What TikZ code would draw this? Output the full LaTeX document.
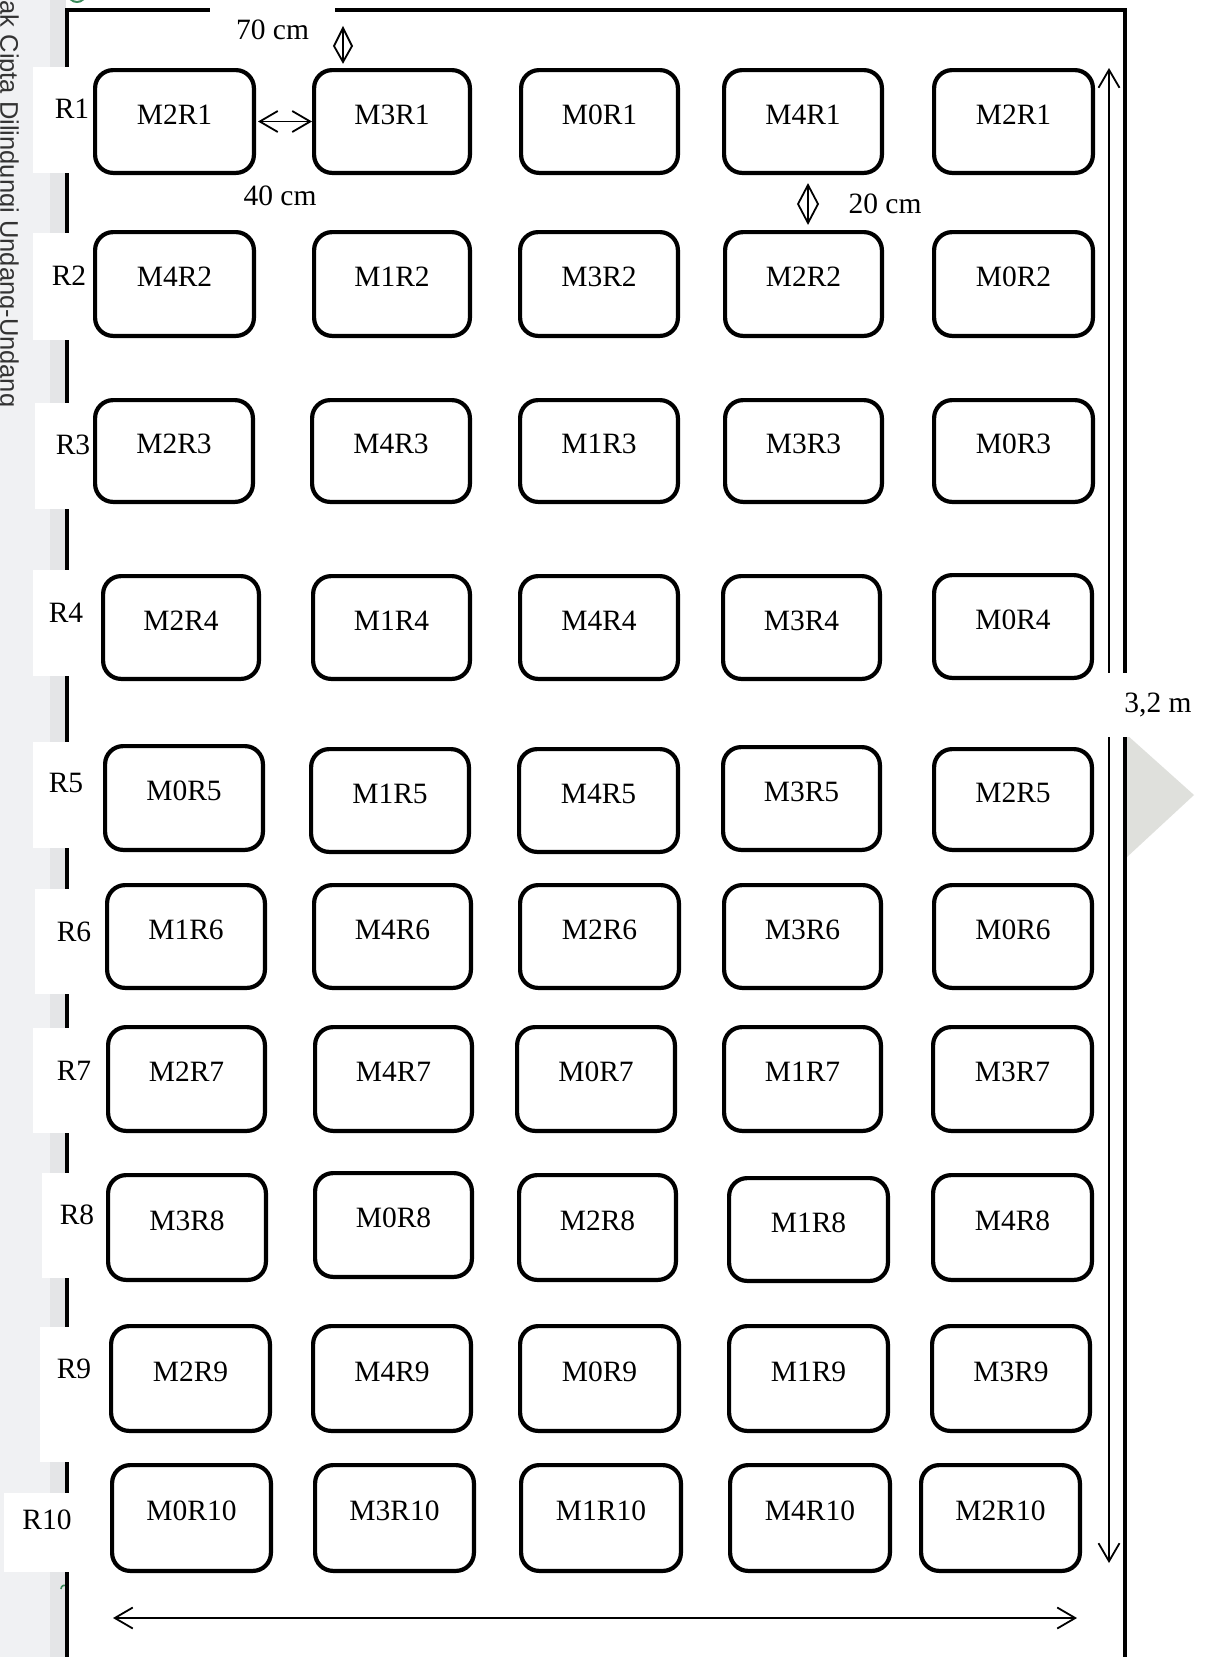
\documentclass[tikz,border=0pt]{standalone}
\usepackage{fontspec}
\setmainfont{Liberation Serif}
\newfontfamily\wmfont{Liberation Sans}
\usetikzlibrary{arrows.meta}

\definecolor{stripA}{HTML}{F0F1F3}
\definecolor{stripB}{HTML}{E4E5E7}
\definecolor{wmtext}{HTML}{333333}
\definecolor{chev}{HTML}{DFE0DC}
\definecolor{wmgreen}{HTML}{3A8A5A}

\tikzset{
  plot/.style={draw=black, line width=4.2pt, rounded corners=18pt, inner sep=0pt, fill=white},
  plottext/.style={font=\fontsize{29.5}{35}\selectfont, inner sep=0pt},
  rowbox/.style={fill=white, draw=none, inner sep=0pt, outer sep=0pt},
  border/.style={line width=4.8pt, line join=miter},
  dimarrow/.style={line width=1.8pt, {Straight Barb[length=18pt,width=21pt]}-{Straight Barb[length=18pt,width=21pt]}},
  thinline/.style={line width=1.8pt, line join=miter},
}

\newcommand\mplot[6]{%
  \node[plot, minimum width={#4-#2-4.2}, minimum height={#5-#3-4.2}] (#1) at ({(#2+#4)/2},{(#3+#5)/2}) {};
  \node[plottext] (#1t) at ([yshift=7pt]#1.center) {#6};
}
\newcommand\rlab[7]{%
  \node[rowbox, minimum width={90-#2}, minimum height={#4-#3}] (#1) at ({(#2+90)/2},{(#3+#4)/2}) {};
  \node[plottext] (#1t) at (#5,#6) {#7};
}

\begin{document}
\begin{tikzpicture}[x=1pt,y=-1pt]
\useasboundingbox (0,0) rectangle (1209,1657);
\fill[white] (0,0) rectangle (1209,1657);

% watermark strip
\fill[stripA] (0,0) rectangle (50,1657);
\fill[stripB] (50,0) rectangle (66,1657);
\node[font=\wmfont\fontsize{25.5}{30}\selectfont, text=wmtext, rotate=-90, anchor=base west, inner sep=0pt] (wm) at (0.5,-18) {Hak Cipta Dilindungi Undang-Undang};
\draw[wmgreen, line width=2pt] (77,-7) circle (9);
\draw[wmgreen, line width=1.6pt] (61,1589) arc[start angle=180, end angle=290, radius=4];

% grey chevron
\fill[chev] (1127,735) -- (1194,795) -- (1127,857) -- cycle;

% field border
\coordinate (tl) at (67,10);
\coordinate (tr) at (1125,10);
\coordinate (bl) at (67,1665);
\coordinate (br) at (1125,1665);
\draw[border] (bl) -- (tl) -- (tr) -- (br);

% row labels
\rlab{rb1}{33}{67}{173}{72}{109}{R1}
\rlab{rb2}{33}{233}{340}{69}{276}{R2}
\rlab{rb3}{35}{403}{509}{73}{445}{R3}
\rlab{rb4}{33}{570}{676}{66}{613}{R4}
\rlab{rb5}{33}{742}{848}{66}{783}{R5}
\rlab{rb6}{35}{889}{994}{74}{932}{R6}
\rlab{rb7}{33}{1028}{1133}{74}{1071}{R7}
\rlab{rb8}{42}{1173}{1278}{77}{1215}{R8}
\rlab{rb9}{40}{1327}{1462}{74}{1369}{R9}
\rlab{rb10}{4}{1493}{1572}{47}{1520}{R10}

% plots
\mplot{p11}{93}{68}{256}{175}{M2R1}
\mplot{p12}{312}{68}{472}{175}{M3R1}
\mplot{p13}{519}{68}{680}{175}{M0R1}
\mplot{p14}{722}{68}{884}{175}{M4R1}
\mplot{p15}{932}{68}{1095}{175}{M2R1}

\mplot{p21}{93}{230}{256}{338}{M4R2}
\mplot{p22}{312}{230}{472}{338}{M1R2}
\mplot{p23}{518}{230}{680}{338}{M3R2}
\mplot{p24}{723}{230}{884}{338}{M2R2}
\mplot{p25}{932}{230}{1095}{338}{M0R2}

\mplot{p31}{93}{398}{255}{504}{M2R3}
\mplot{p32}{310}{398}{472}{504}{M4R3}
\mplot{p33}{518}{398}{680}{504}{M1R3}
\mplot{p34}{723}{398}{884}{504}{M3R3}
\mplot{p35}{932}{398}{1095}{504}{M0R3}

\mplot{p41}{101}{574}{261}{681}{M2R4}
\mplot{p42}{311}{574}{472}{681}{M1R4}
\mplot{p43}{518}{574}{680}{681}{M4R4}
\mplot{p44}{721}{574}{882}{681}{M3R4}
\mplot{p45}{932}{573}{1094}{680}{M0R4}

\mplot{p51}{103}{744}{265}{852}{M0R5}
\mplot{p52}{309}{747}{471}{854}{M1R5}
\mplot{p53}{517}{747}{680}{854}{M4R5}
\mplot{p54}{721}{745}{882}{852}{M3R5}
\mplot{p55}{932}{747}{1094}{852}{M2R5}

\mplot{p61}{105}{883}{267}{990}{M1R6}
\mplot{p62}{312}{883}{473}{990}{M4R6}
\mplot{p63}{518}{883}{681}{990}{M2R6}
\mplot{p64}{722}{883}{883}{990}{M3R6}
\mplot{p65}{932}{883}{1094}{990}{M0R6}

\mplot{p71}{106}{1025}{267}{1133}{M2R7}
\mplot{p72}{313}{1025}{474}{1133}{M4R7}
\mplot{p73}{515}{1025}{677}{1133}{M0R7}
\mplot{p74}{722}{1025}{883}{1133}{M1R7}
\mplot{p75}{931}{1025}{1094}{1133}{M3R7}

\mplot{p81}{106}{1173}{268}{1282}{M3R8}
\mplot{p82}{313}{1171}{474}{1279}{M0R8}
\mplot{p83}{517}{1173}{678}{1282}{M2R8}
\mplot{p84}{727}{1176}{890}{1283}{M1R8}
\mplot{p85}{931}{1173}{1094}{1282}{M4R8}

\mplot{p91}{109}{1324}{272}{1433}{M2R9}
\mplot{p92}{311}{1324}{473}{1433}{M4R9}
\mplot{p93}{518}{1324}{681}{1433}{M0R9}
\mplot{p94}{727}{1324}{890}{1433}{M1R9}
\mplot{p95}{930}{1324}{1092}{1433}{M3R9}

\mplot{p101}{110}{1463}{273}{1573}{M0R10}
\mplot{p102}{313}{1463}{476}{1573}{M3R10}
\mplot{p103}{519}{1463}{683}{1573}{M1R10}
\mplot{p104}{728}{1463}{892}{1573}{M4R10}
\mplot{p105}{919}{1463}{1082}{1573}{M2R10}

% dimension: 40 cm between plots
\draw[dimarrow, shorten <=2pt, shorten >=0pt] (p11.east) -- (p12.west);
\node[plottext] (d40) at (280,196) {40 cm};

% dimension: 70 cm (top)
\node[plottext, fill=white, minimum width=125pt, minimum height=46pt] (d70) at (272.5,30) {70 cm};
\coordinate (d70a) at (343,28);
\coordinate (d70b) at (343,62);
\draw[thinline] (d70a) -- (352,46) -- (d70b) -- (334,46) -- cycle;
\draw[thinline] (d70a) -- (d70b);

% dimension: 20 cm
\coordinate (d20a) at (808,185);
\coordinate (d20b) at (808,223);
\draw[thinline] (d20a) -- (818,204) -- (d20b) -- (798,204) -- cycle;
\draw[thinline] (d20a) -- (d20b);
\node[plottext] (d20) at (885,204) {20 cm};

% overall length 3,2 m
\coordinate (vtop) at (1109,68);
\coordinate (vbot) at (1109,1563);
\draw[dimarrow] (vtop) -- (vbot);
\node[plottext, fill=white, minimum width=112pt, minimum height=64pt] (d32) at (1158,705) {3,2 m};

% overall width
\coordinate (hleft) at (113,1618);
\coordinate (hright) at (1077,1618);
\draw[dimarrow] (hleft) -- (hright);
\end{tikzpicture}
\end{document}
